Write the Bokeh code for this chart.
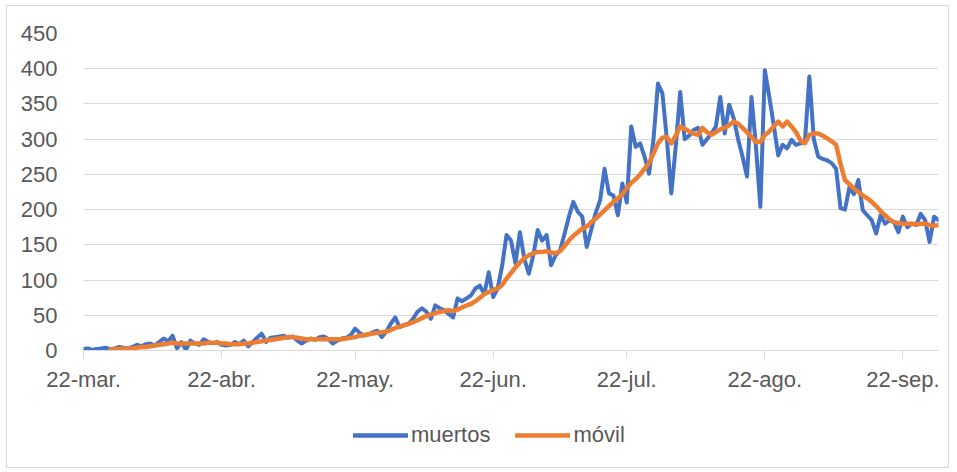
from bokeh.plotting import figure
from bokeh.models import FixedTicker, Range1d, Legend, LegendItem
from bokeh.layouts import column
from bokeh.embed import file_html
from bokeh.resources import INLINE

# daily deaths, one value per day starting 22-mar
muertos = [
    2, 3, 1, 2, 3, 4, 2, 3, 5, 4,
    3, 5, 8, 6, 9, 10, 7, 12, 17, 13,
    21, 3, 12, 1, 14, 10, 8, 16, 12, 10,
    12, 8, 7, 8, 12, 9, 14, 6, 12, 18,
    24, 12, 18, 19, 20, 21, 18, 20, 14, 10,
    14, 17, 15, 19, 20, 16, 10, 14, 17, 18,
    22, 31, 25, 21, 23, 26, 28, 19, 27, 38,
    47, 33, 36, 38, 45, 55, 60, 55, 45, 64,
    60, 57, 52, 47, 74, 70, 74, 78, 88, 92,
    80, 111, 76, 88, 120, 164, 156, 124, 168, 130,
    109, 135, 171, 156, 164, 121, 135, 142, 165, 190,
    211, 197, 190, 147, 171, 195, 213, 258, 223, 220,
    192, 237, 210, 318, 289, 294, 275, 251, 300, 379,
    365, 300, 223, 290, 367, 300, 305, 313, 316, 292,
    300, 308, 318, 360, 308, 349, 330, 300, 275, 247,
    360, 290, 204, 398, 360, 320, 277, 292, 287, 299,
    292, 294, 296, 389, 300, 275, 272, 270, 266, 258,
    202, 200, 232, 222, 242, 199, 192, 185, 166, 192,
    180, 185, 182, 168, 190, 175, 180, 178, 194, 185,
    154, 190, 185,
]

# 7-day moving average (starts on day 7)
movil = [
    1, 2, 2, 3, 3, 3, 4, 5, 5, 6,
    7, 8, 9, 10, 11, 10, 10, 10, 10, 10,
    10, 10, 11, 11, 11, 10, 10, 9, 9, 9,
    10, 10, 11, 12, 13, 14, 15, 16, 17, 18,
    19, 19, 18, 17, 16, 16, 16, 16, 16, 16,
    16, 16, 16, 17, 18, 19, 21, 22, 23, 24,
    25, 26, 27, 29, 32, 34, 36, 38, 40, 43,
    46, 49, 51, 53, 55, 56, 57, 56, 58, 61,
    64, 66, 70, 75, 80, 83, 86, 88, 93, 102,
    110, 118, 125, 131, 135, 138, 140, 140, 141, 139,
    138, 141, 148, 156, 163, 168, 173, 176, 182, 187,
    193, 199, 205, 211, 216, 222, 230, 238, 243, 250,
    258, 266, 280, 294, 302, 303, 294, 305, 318, 315,
    311, 308, 306, 316, 310, 306, 310, 314, 316, 320,
    325, 322, 316, 310,
    303, 296, 296, 306, 311, 318, 325, 318, 325, 318,
    310, 298, 294, 306, 308, 308, 305, 301, 297, 292,
    265, 242, 236, 230, 225, 220, 216, 211, 205, 198,
    192, 186, 182, 181, 180, 180, 180, 179, 180, 180,
    178, 177, 178,
]

tick_days = [0, 31, 61, 92, 122, 153, 184]
tick_labels = ["22-mar.", "22-abr.", "22-may.", "22-jun.", "22-jul.", "22-ago.", "22-sep."]
y_ticks = [0, 50, 100, 150, 200, 250, 300, 350, 400, 450]
series_names = ["muertos", "móvil"]
series_colors = ["#4472C4", "#ED7D31"]

x_m = list(range(len(muertos)))
x_v = list(range(len(muertos) - len(movil), len(muertos)))

FONT = "Liberation Sans"
TXT = "#595959"
GRID = "#d9d9d9"

p = figure(width=941, height=403, output_backend="svg", toolbar_location=None,
           x_range=Range1d(0, len(muertos) - 1), y_range=Range1d(0, 450),
           min_border_left=76, min_border_right=10, min_border_top=27,
           min_border_bottom=59)
p.outline_line_color = None
p.background_fill_color = "white"
p.border_fill_color = "white"

p.xgrid.grid_line_color = None
p.ygrid.grid_line_color = GRID
p.ygrid.grid_line_width = 1

p.yaxis.ticker = FixedTicker(ticks=y_ticks)
p.yaxis.axis_line_color = None
p.yaxis.major_tick_line_color = None
p.yaxis.minor_tick_line_color = None
p.yaxis.major_label_standoff = 20
p.yaxis.major_label_text_font = FONT
p.yaxis.major_label_text_font_size = "22px"
p.yaxis.major_label_text_color = TXT

p.xaxis.ticker = FixedTicker(ticks=tick_days)
p.xaxis.major_label_overrides = {d: l for d, l in zip(tick_days, tick_labels)}
p.xaxis.axis_line_color = GRID
p.xaxis.axis_line_width = 1
p.xaxis.major_tick_line_color = GRID
p.xaxis.major_tick_out = 8
p.xaxis.major_tick_in = 0
p.xaxis.minor_tick_line_color = None
p.xaxis.major_label_standoff = 8
p.xaxis.major_label_text_font = FONT
p.xaxis.major_label_text_font_size = "22px"
p.xaxis.major_label_text_color = TXT

p.line(x_m, muertos, line_color=series_colors[0], line_width=4,
       line_join="round", line_cap="round")
p.line(x_v, movil, line_color=series_colors[1], line_width=4.5,
       line_join="round", line_cap="round")

# legend strip below the chart
p2 = figure(width=941, height=58, output_backend="svg", toolbar_location=None,
            x_range=Range1d(0, 1), y_range=Range1d(0, 1),
            min_border_left=0, min_border_right=0, min_border_top=0,
            min_border_bottom=0)
p2.axis.visible = False
p2.grid.visible = False
p2.outline_line_color = None
p2.border_fill_color = "white"
# off-range proxies so the legend can draw its line samples
lr1 = p2.line([-2, -1], [-2, -2], line_color=series_colors[0], line_width=4.5, line_cap="round")
lr2 = p2.line([-2, -1], [-2, -2], line_color=series_colors[1], line_width=4.5, line_cap="round")

legend = Legend(items=[LegendItem(label=series_names[0], renderers=[lr1]),
                       LegendItem(label=series_names[1], renderers=[lr2])],
                orientation="horizontal", location=(270, 19))
legend.glyph_width = 55
legend.glyph_height = 20
legend.label_standoff = 3
legend.spacing = 25
legend.padding = 0
legend.margin = 0
legend.border_line_color = None
legend.background_fill_alpha = 0
legend.label_text_font = FONT
legend.label_text_font_size = "22px"
legend.label_text_color = TXT
p2.add_layout(legend, "center")

layout = column(p, p2, spacing=0)
layout.margin = (5, 0, 0, 6)
layout.styles = {"border": "1px solid #d9d9d9"}
open("out.html", "w").write(file_html(layout, INLINE))
